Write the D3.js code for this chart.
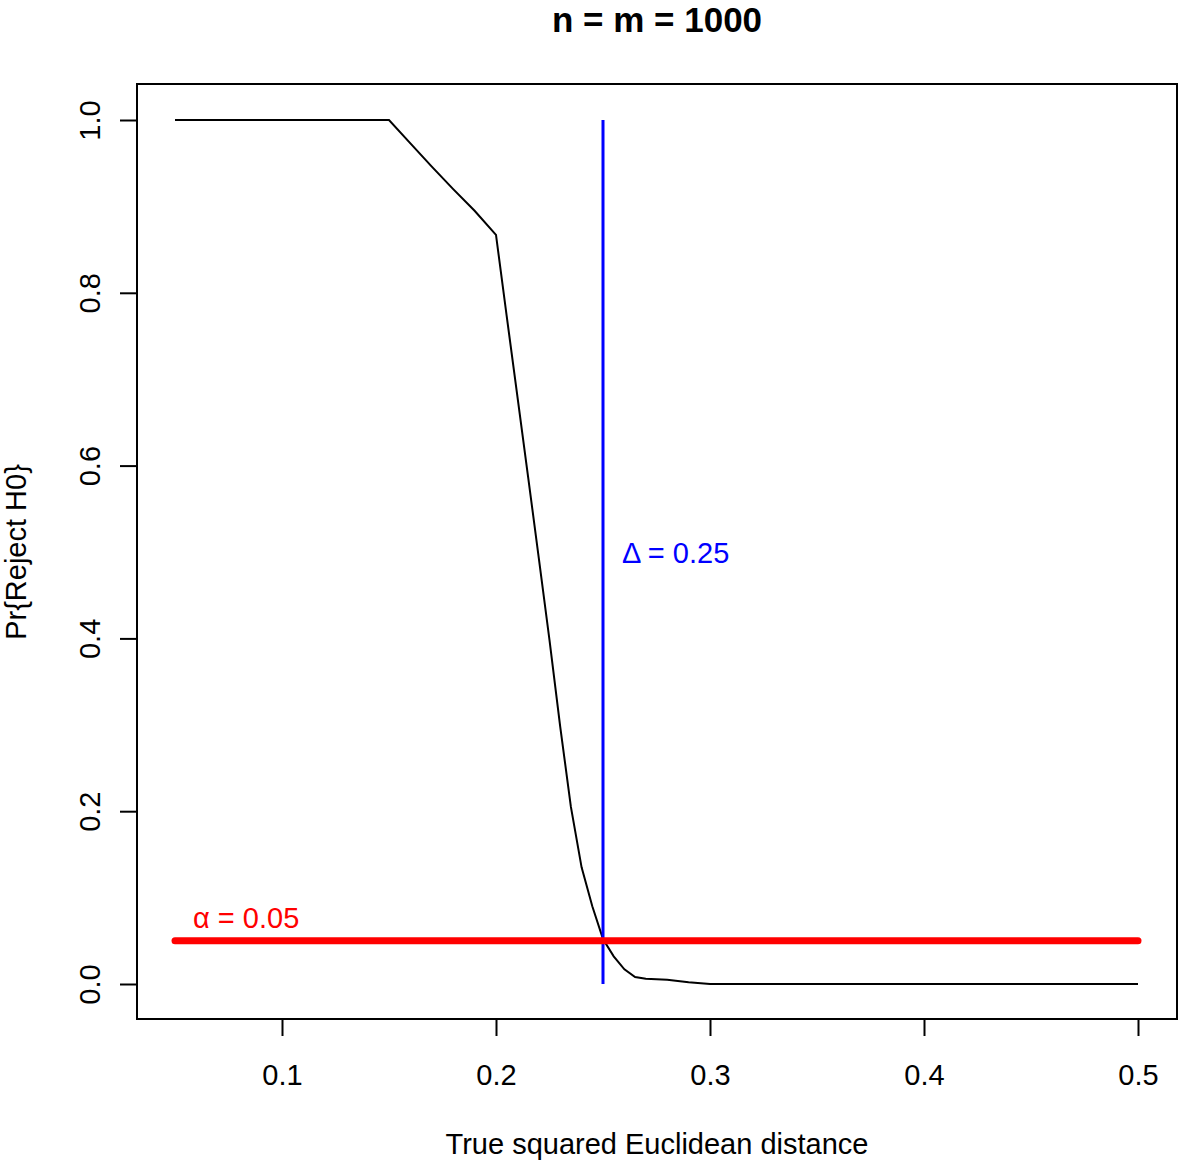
<!DOCTYPE html>
<meta charset="utf-8">
<style>
body { margin: 0; background: #fff; }
text { font-family: "Liberation Sans", Arial, sans-serif; }
</style>
<svg width="1179" height="1162"></svg>
<script src="https://d3js.org/d3.v7.min.js"></script>
<script>

// power curve
var distance = [0.05, 0.10, 0.15, 0.16, 0.17, 0.18, 0.19, 0.20, 0.205, 0.21, 0.215, 0.22,
                0.225, 0.23, 0.235, 0.24, 0.245, 0.25, 0.255, 0.26, 0.265, 0.27, 0.28,
                0.29, 0.30, 0.35, 0.40, 0.45, 0.50];
var power = [1, 1, 1, 0.973, 0.946, 0.92, 0.895, 0.867, 0.773, 0.680, 0.587, 0.493,
             0.398, 0.298, 0.205, 0.135, 0.090, 0.052, 0.032, 0.017, 0.008, 0.006, 0.005,
             0.002, 0, 0, 0, 0, 0];

var xTicks = [0.1, 0.2, 0.3, 0.4, 0.5];
var yTicks = [0, 0.2, 0.4, 0.6, 0.8, 1.0];

var alpha = 0.05, delta = 0.25;

var svg = d3.select("svg"),
    box = {left: 137, right: 1177, top: 84, bottom: 1019};

// R style: 4% padding on each side of the data range
var x = d3.scaleLinear().domain([0.05, 0.5]).range([175, 1138]),
    y = d3.scaleLinear().domain([0, 1]).range([984, 120]);

svg.append("rect")
    .attr("x", box.left)
    .attr("y", box.top)
    .attr("width", box.right - box.left)
    .attr("height", box.bottom - box.top)
    .attr("fill", "none")
    .attr("stroke", "#000")
    .attr("stroke-width", 2);

var xAxis = svg.append("g")
    .attr("transform", "translate(0," + box.bottom + ")")
    .call(d3.axisBottom(x).tickValues(xTicks).tickSize(17).tickPadding(0).tickFormat(d3.format(".1f")));
xAxis.select(".domain").remove();
xAxis.selectAll("line").attr("stroke-width", 2);
xAxis.selectAll("text")
    .attr("y", 66).attr("dy", null)
    .attr("font-size", 29).attr("font-family", null).attr("fill", "#000");

var yAxis = svg.append("g")
    .attr("transform", "translate(" + box.left + ",0)")
    .call(d3.axisLeft(y).tickValues(yTicks).tickSize(17).tickFormat(d3.format(".1f")));
yAxis.select(".domain").remove();
yAxis.selectAll("line").attr("stroke-width", 2);
yAxis.selectAll("text")
    .attr("x", null).attr("dy", null)
    .attr("transform", "translate(-37,0) rotate(-90)")
    .attr("text-anchor", "middle")
    .attr("font-size", 29).attr("font-family", null).attr("fill", "#000");

svg.append("text")
    .attr("x", 657)
    .attr("y", 32)
    .attr("text-anchor", "middle")
    .attr("font-size", 35)
    .attr("font-weight", "bold")
    .text("n = m = 1000");

svg.append("text")
    .attr("x", 657)
    .attr("y", 1154)
    .attr("text-anchor", "middle")
    .attr("font-size", 29)
    .text("True squared Euclidean distance");

svg.append("text")
    .attr("transform", "translate(26,552) rotate(-90)")
    .attr("text-anchor", "middle")
    .attr("font-size", 29)
    .text("Pr{Reject H0}");

var line = d3.line()
    .x(function(d, i) { return x(distance[i]); })
    .y(function(d) { return y(d); });

svg.append("path")
    .datum(power)
    .attr("d", line)
    .attr("fill", "none")
    .attr("stroke", "#000")
    .attr("stroke-width", 2);

svg.append("line")
    .attr("x1", x(delta)).attr("x2", x(delta))
    .attr("y1", y(0)).attr("y2", y(1))
    .attr("stroke", "#0000ff")
    .attr("stroke-width", 3);

svg.append("line")
    .attr("x1", x(0.05)).attr("x2", x(0.5))
    .attr("y1", y(alpha)).attr("y2", y(alpha))
    .attr("stroke", "#ff0000")
    .attr("stroke-width", 7)
    .attr("stroke-linecap", "round");

svg.append("text")
    .attr("x", 193)
    .attr("y", 928)
    .attr("font-size", 29)
    .attr("fill", "#ff0000")
    .text("\u03b1 = 0.05");

svg.append("text")
    .attr("x", 622)
    .attr("y", 563)
    .attr("font-size", 29)
    .attr("fill", "#0000ff")
    .text("\u0394 = 0.25");

</script>
